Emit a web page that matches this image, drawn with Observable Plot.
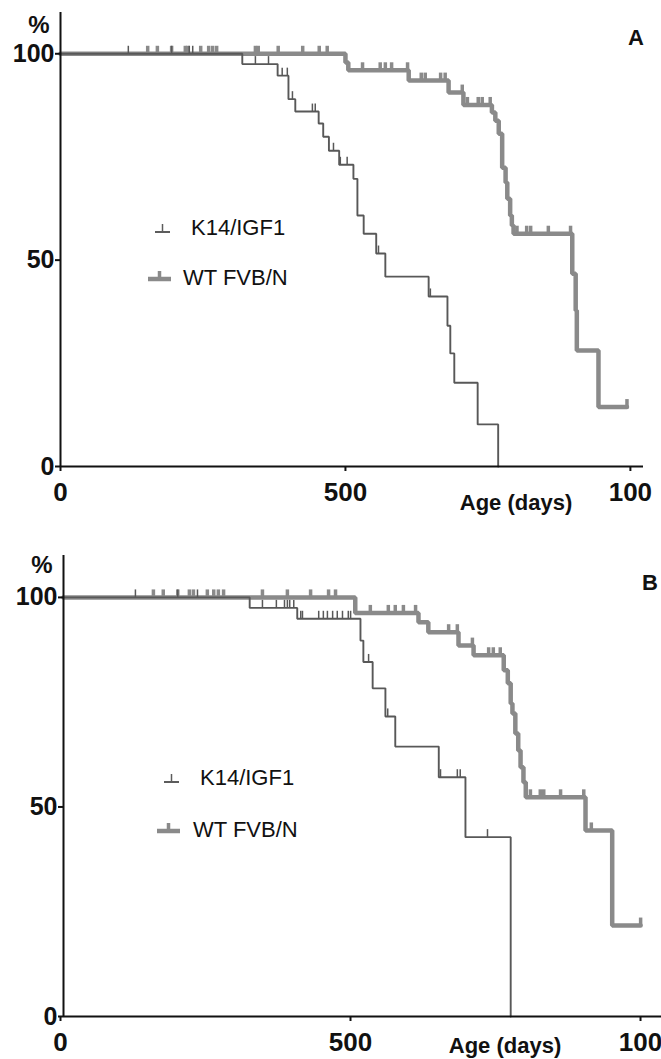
<!DOCTYPE html>
<html><head><meta charset="utf-8">
<script src="https://cdn.jsdelivr.net/npm/d3@7"></script>
<script src="https://cdn.jsdelivr.net/npm/@observablehq/plot@0.6"></script>
<style>
html,body{margin:0;padding:0;background:#fff;overflow:hidden;}
body{width:661px;height:1059px;position:relative;font-family:"Liberation Sans",Arial,Helvetica,sans-serif;}
.panel{position:absolute;left:0;overflow:hidden;}
.lbl{position:absolute;font-weight:bold;color:#111;line-height:1;white-space:nowrap;transform:translate(-50%,-50%);}
.leg{position:absolute;font-size:22px;color:#111;line-height:1;white-space:nowrap;transform:translateY(-50%);}
#legsym{position:absolute;left:0;top:0;pointer-events:none;}
</style></head><body>
<div id="pa" class="panel" style="top:0;width:661px;height:530px"></div>
<div id="pb" class="panel" style="top:540px;width:661px;height:519px"></div>

<div class="lbl" style="left:39px;top:25px;font-size:24px">%</div>
<div class="lbl" style="left:636px;top:38px;font-size:22px">A</div>
<div class="lbl" style="left:516px;top:503px;font-size:22px">Age (days)</div>
<div class="lbl" style="left:42px;top:565px;font-size:24px">%</div>
<div class="lbl" style="left:650px;top:583px;font-size:22px">B</div>
<div class="lbl" style="left:505px;top:1046px;font-size:22px">Age (days)</div>

<div class="leg" style="left:191px;top:228px">K14/IGF1</div>
<div class="leg" style="left:183px;top:278px">WT FVB/N</div>
<div class="leg" style="left:200px;top:778px">K14/IGF1</div>
<div class="leg" style="left:193px;top:830px">WT FVB/N</div>

<svg id="legsym" width="661" height="1059">
  <g stroke="#5c5c5c" fill="none">
    <line x1="155" y1="232" x2="170" y2="232" stroke-width="2"/>
    <line x1="162.5" y1="232" x2="162.5" y2="224" stroke-width="1.5"/>
    <line x1="164" y1="782" x2="179" y2="782" stroke-width="2"/>
    <line x1="171.5" y1="782" x2="171.5" y2="774" stroke-width="1.5"/>
  </g>
  <g stroke="#8a8a8a" fill="none">
    <line x1="148" y1="279" x2="171" y2="279" stroke-width="4.5"/>
    <line x1="159.5" y1="279" x2="159.5" y2="271" stroke-width="3.5"/>
    <line x1="157" y1="831" x2="180" y2="831" stroke-width="4.5"/>
    <line x1="168.5" y1="831" x2="168.5" y2="823" stroke-width="3.5"/>
  </g>
</svg>

<script>
// ---------- Data ----------
const seriesNames = ["K14/IGF1", "WT FVB/N"];
const xTicks = [0, 500, 1000];
const xTickLabels = ["0", "500", "100"];   // the reference shows the last label cut to "100"
const yTicks = [0, 50, 100];
const yTickLabels = ["0", "50", "100"];

// Panel A
const aK14Days = [0, 319, 381, 400, 412, 453, 461, 471, 489, 514, 521, 532, 554, 570, 646, 679, 684, 691, 732, 768];
const aK14Surv = [100, 97.5, 94.7, 89.0, 86.0, 83.1, 79.9, 76.5, 73.1, 69.7, 60.8, 56.4, 51.6, 46.0, 41.2, 34.1, 27.4, 20.3, 10.2, 0];
const aK14Censor = [119, 195, 226, 232, 342, 365, 389, 398, 407, 442, 447, 479, 491, 503, 558, 649];
const aWTDays = [0, 500, 505, 611, 681, 707, 757, 763, 769, 775, 781, 784, 789, 792, 795, 898, 904, 906, 944, 994];
const aWTSurv = [100, 97.9, 96.0, 93.5, 90.6, 87.6, 85.8, 83.8, 80.6, 72.4, 68.8, 64.9, 60.8, 58.4, 56.4, 46.7, 37.8, 28.1, 14.4, 14.4];
const aWTCensor = [153, 170, 195, 219, 223, 246, 260, 267, 274, 342, 347, 382, 425, 454, 468, 530, 561, 570, 581, 609, 633, 640, 667, 675, 705, 714, 733, 740, 754, 801, 818, 825, 856, 895, 994];

// Panel B
const bK14Days = [0, 321, 403, 512, 517, 533, 555, 572, 647, 693, 771];
const bK14Surv = [100, 97.5, 94.9, 89.7, 84.6, 78.3, 71.6, 64.4, 57.1, 42.8, 0];
const bK14Censor = [124, 197, 231, 343, 367, 381, 386, 390, 397, 409, 412, 440, 448, 455, 464, 472, 481, 491, 495, 526, 559, 650, 679, 684, 731];
const bWTDays = [0, 503, 612, 629, 681, 707, 759, 766, 771, 774, 779, 784, 788, 793, 797, 900, 946, 995];
const bWTSurv = [100, 96.3, 94.1, 91.7, 88.5, 86.2, 82.6, 79.5, 74.7, 72.3, 67.5, 63.5, 59.5, 55.9, 52.3, 44.4, 21.7, 21.7];
const bWTCensor = [155, 172, 197, 217, 224, 248, 259, 267, 276, 343, 386, 426, 457, 469, 529, 560, 572, 586, 607, 664, 679, 705, 733, 741, 753, 805, 822, 828, 857, 897, 910, 995];

// ---------- Helpers ----------
function toRows(days, surv) { return days.map((d, i) => ({day: d, surv: surv[i]})); }
function survAt(days, surv, t) {
  let s = surv[0];
  for (let i = 0; i < days.length; i++) if (days[i] <= t) s = surv[i];
  return s;
}
function censorRows(cens, days, surv) { return cens.map(t => ({day: t, surv: survAt(days, surv, t)})); }
const tickUp = {draw(ctx) { ctx.moveTo(0, 0); ctx.lineTo(0, -8); }};

const K14_COLOR = "#585858", WT_COLOR = "#8a8a8a";

function panel(o) {
  const k14 = toRows(o.k14Days, o.k14Surv), wt = toRows(o.wtDays, o.wtSurv);
  const k14C = censorRows(o.k14Cens, o.k14Days, o.k14Surv);
  const wtC = censorRows(o.wtCens, o.wtDays, o.wtSurv);
  return Plot.plot({
    width: o.width, height: o.height,
    marginLeft: o.ml, marginRight: o.mr, marginTop: o.mt, marginBottom: o.mb,
    x: {domain: [0, o.xmax]},
    y: {domain: [0, 110]},
    style: {fontFamily: '"Liberation Sans", Arial, Helvetica, sans-serif', background: "transparent", overflow: "visible"},
    marks: [
      Plot.line(wt, {x: "day", y: "surv", curve: "step-after", stroke: WT_COLOR, strokeWidth: 4.5, strokeLinejoin: "miter"}),
      Plot.dot(wtC, {x: "day", y: "surv", symbol: tickUp, stroke: WT_COLOR, strokeWidth: 3.5, fill: "none"}),
      Plot.line(k14, {x: "day", y: "surv", curve: "step-after", stroke: K14_COLOR, strokeWidth: 1.9, strokeLinejoin: "miter"}),
      Plot.dot(k14C, {x: "day", y: "surv", symbol: tickUp, stroke: K14_COLOR, strokeWidth: 1.5, fill: "none"}),
      Plot.ruleX([0], {stroke: "#111", strokeWidth: 2}),
      Plot.ruleY([0], {stroke: "#111", strokeWidth: 2}),
      Plot.axisY({ticks: yTicks, tickFormat: d => yTickLabels[yTicks.indexOf(d)], tickSize: 5, tickPadding: 1,
        fontSize: 25, fontWeight: "bold", color: "#111", strokeWidth: 2, label: null}),
      Plot.axisX({ticks: xTicks, tickFormat: d => xTickLabels[xTicks.indexOf(d)], tickSize: 5, tickPadding: 11,
        fontSize: 26, fontWeight: "bold", color: "#111", strokeWidth: 2, label: null, dx: o.xdx})
    ]
  });
}

document.getElementById("pa").append(panel({
  k14Days: aK14Days, k14Surv: aK14Surv, k14Cens: aK14Censor,
  wtDays: aWTDays, wtSurv: aWTSurv, wtCens: aWTCensor,
  width: 645, height: 520, ml: 60, mr: 2, mt: 12, mb: 54, xmax: 1023, xdx: 0
}));
document.getElementById("pb").append(panel({
  k14Days: bK14Days, k14Surv: bK14Surv, k14Cens: bK14Censor,
  wtDays: bWTDays, wtSurv: bWTSurv, wtCens: bWTCensor,
  width: 661, height: 519, ml: 63, mr: 0, mt: 15, mb: 43, xmax: 1031, xdx: -3
}));
</script>
</body></html>
